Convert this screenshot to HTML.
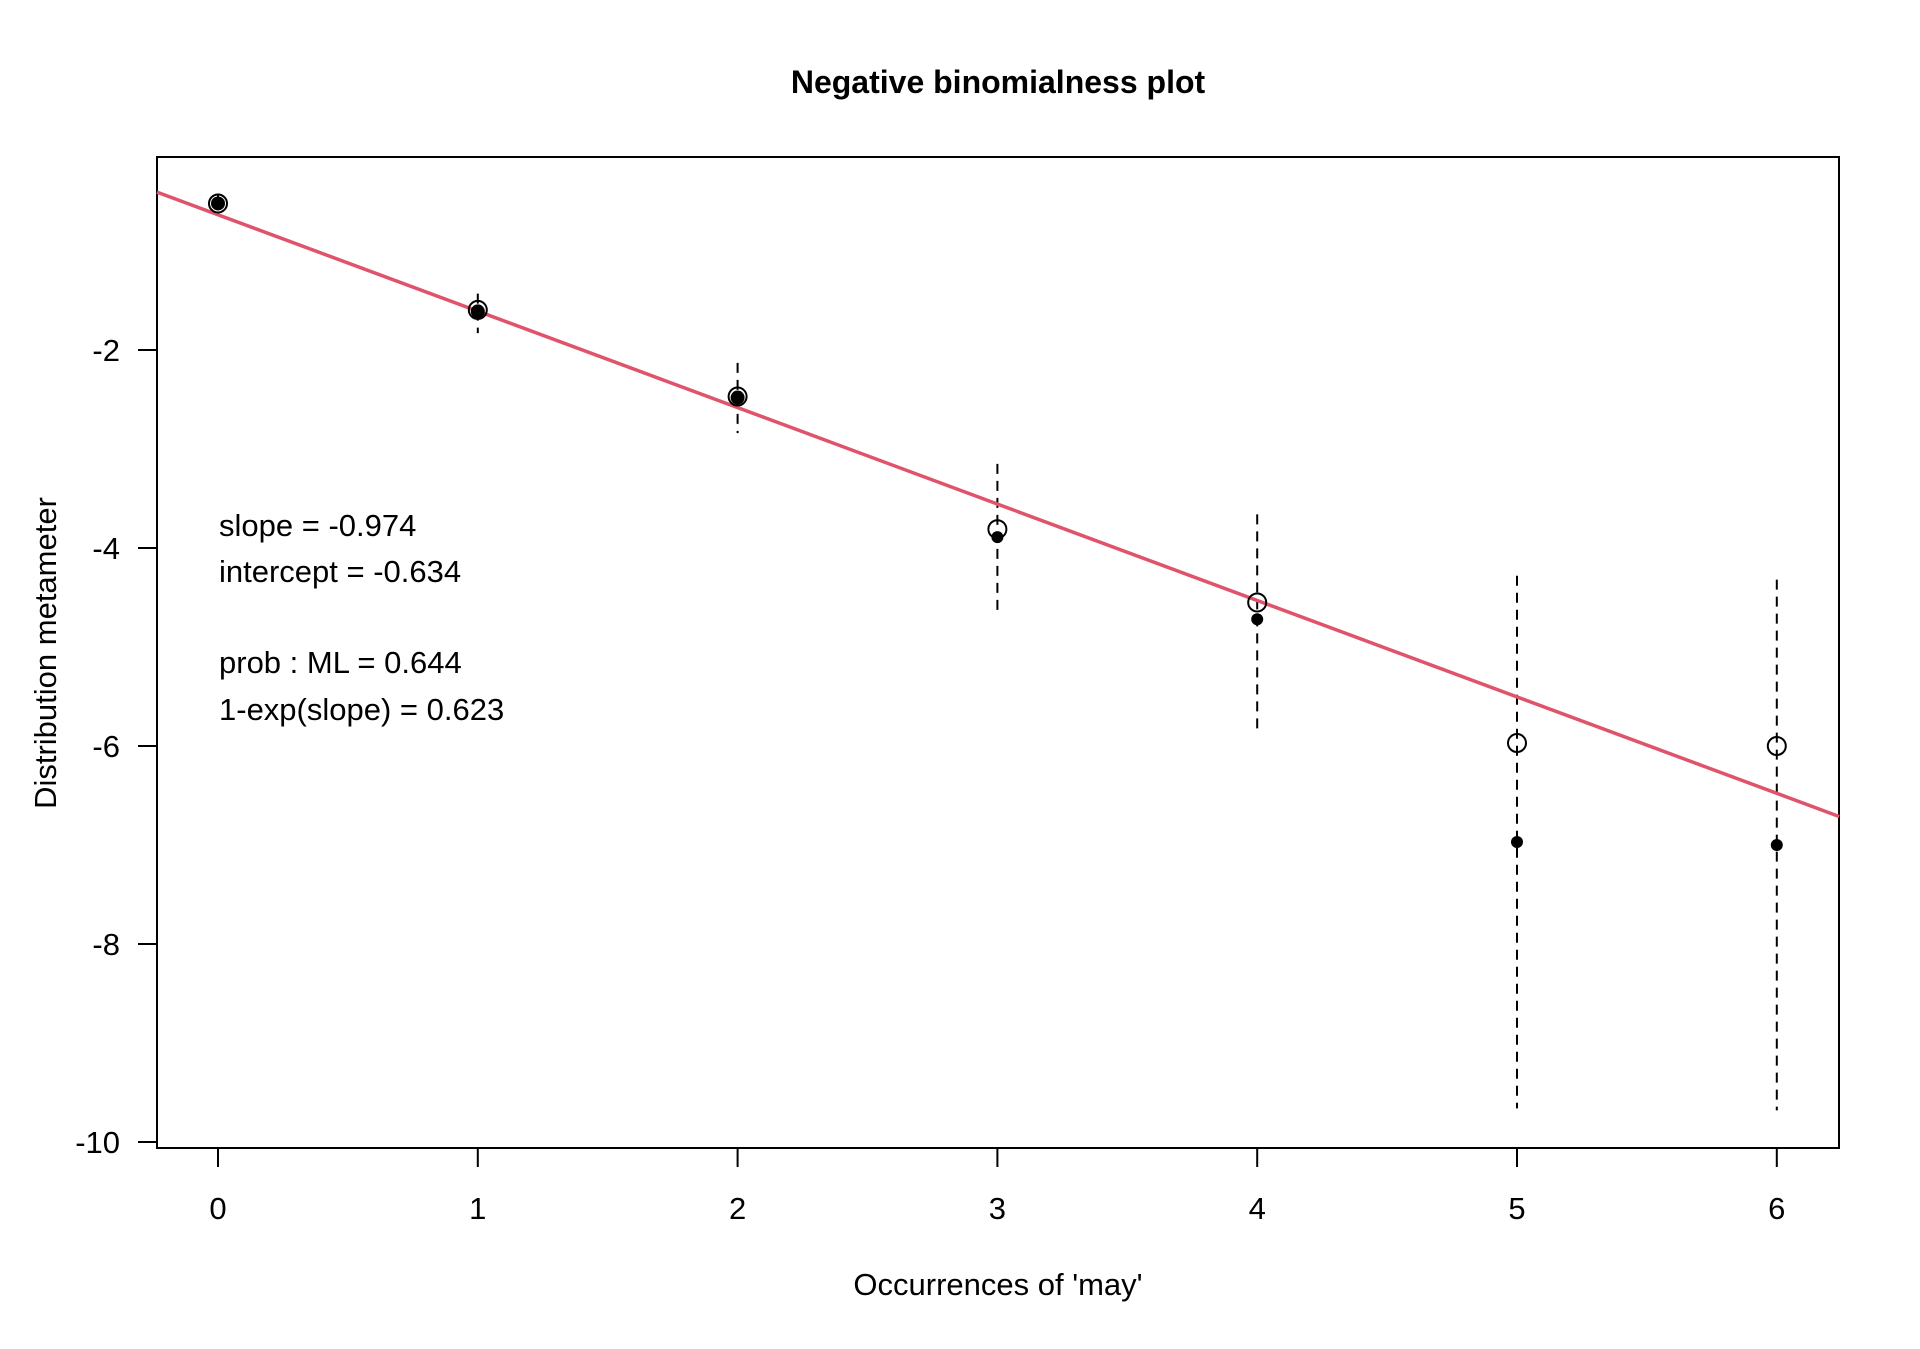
<!DOCTYPE html>
<html><head><meta charset="utf-8"><style>
html,body{margin:0;padding:0;background:#fff;}
svg text{font-family:"Liberation Sans",Arial,sans-serif;}
</style></head><body>
<svg id="chart" width="1920" height="1344" viewBox="0 0 1920 1344" xmlns="http://www.w3.org/2000/svg">
<rect width="1920" height="1344" fill="#fff"/>
<text x="998" y="93" font-size="32" font-weight="bold" text-anchor="middle">Negative binomialness plot</text>
<rect x="157" y="157" width="1682" height="991" fill="none" stroke="#000" stroke-width="2"/>
<g id="xticks"></g><g id="yticks"></g>
<g id="bars"></g><g id="fitline"></g><g id="points"></g>
<text x="998" y="1295" font-size="31" text-anchor="middle">Occurrences of 'may'</text>
<text x="56" y="653" font-size="31" text-anchor="middle" transform="rotate(-90 56 653)">Distribution metameter</text>
<g font-size="31">
<text x="219" y="536">slope = -0.974</text>
<text x="219" y="582">intercept = -0.634</text>
<text x="219" y="673">prob : ML = 0.644</text>
<text x="219" y="720">1-exp(slope) = 0.623</text>
</g>
</svg>
<script>
const categories=[0,1,2,3,4,5,6];
const openVals=[-0.52,-1.595,-2.47,-3.81,-4.55,-5.97,-6.0];
const filledVals=[-0.52,-1.61,-2.48,-3.89,-4.72,-6.97,-7.0];
const barUpper=[-0.44,-1.43,-2.13,-3.15,-3.66,-4.28,-4.32];
const barLower=[-0.63,-1.83,-2.84,-4.65,-5.85,-9.66,-9.68];
const yTicks=[-2,-4,-6,-8,-10];
const fitSlope=-0.974;
const fitIntercept=-0.634;
const NS='http://www.w3.org/2000/svg';
const X=v=>218+v*259.8;
const Y=v=>350+(-2-v)*99;
function mk(tag,attrs,parent){const e=document.createElementNS(NS,tag);for(const k in attrs)e.setAttribute(k,attrs[k]);document.getElementById(parent).appendChild(e);return e;}
categories.forEach((c,i)=>{
  const t=mk('line',{x1:X(c),x2:X(c),y1:1148,y2:1167,stroke:'#000','stroke-width':2},'xticks');
  
  
  const l=mk('text',{x:X(c),y:1219,'font-size':31,'text-anchor':'middle'},'xticks');l.textContent=c;
  
  
});
yTicks.forEach(v=>{
  const t=mk('line',{x1:138,x2:157,y1:Y(v),y2:Y(v),stroke:'#000','stroke-width':2},'yticks');
  
  
  const l=mk('text',{x:120,y:Y(v)+11,'font-size':31,'text-anchor':'end'},'yticks');l.textContent=v;
  
  
});
categories.forEach((c,i)=>{
  const b=mk('line',{x1:X(c),x2:X(c),y1:Y(barUpper[i]),y2:Y(barLower[i]),stroke:'#000','stroke-width':2,'stroke-dasharray':'10,7'},'bars');
  
  
});
const x0=-0.235,x1=6.24;
const fl=mk('line',{x1:X(x0),y1:Y(fitIntercept+fitSlope*x0),x2:X(x1),y2:Y(fitIntercept+fitSlope*x1),stroke:'#DF536B','stroke-width':3.5},'fitline');


categories.forEach((c,i)=>{
  const o=mk('circle',{cx:X(c),cy:Y(openVals[i]),r:9,fill:'none',stroke:'#000','stroke-width':2},'points');
  
  
  const f=mk('circle',{cx:X(c),cy:Y(filledVals[i]),r:i<3?7:6,fill:'#000'},'points');
  
  
});
</script>
</body></html>
